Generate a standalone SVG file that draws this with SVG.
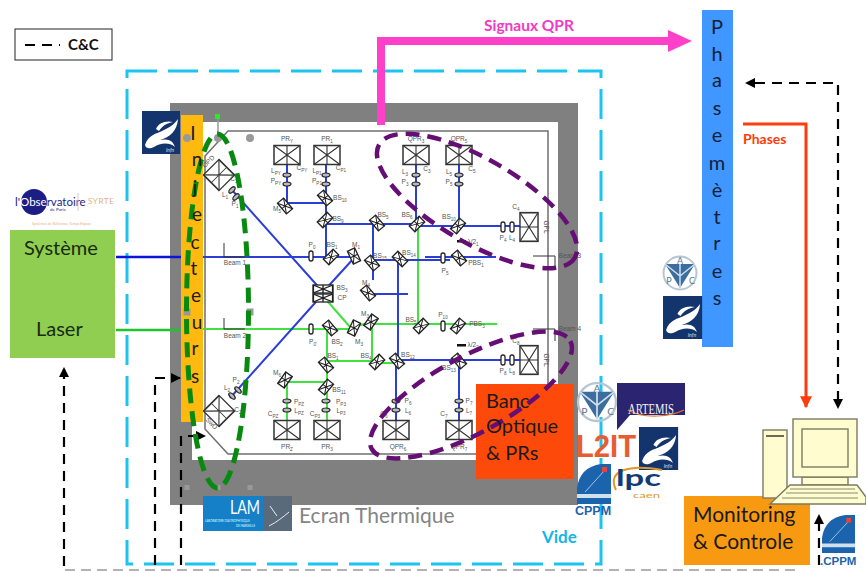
<svg xmlns="http://www.w3.org/2000/svg" xmlns:xlink="http://www.w3.org/1999/xlink" width="866" height="571" viewBox="0 0 866 571">
<style>
text{font-family:"Lato","Liberation Sans",sans-serif}
.l{font-family:"Liberation Sans",sans-serif;font-size:6.5px;fill:#555;text-anchor:middle}
.s{font-size:4.6px}
.b{fill:none;stroke:#2b3fd6;stroke-width:2}
.g{fill:none;stroke:#3fe23f;stroke-width:2}
.c{fill:#fff;stroke:#222;stroke-width:1.3}
.ln{fill:#bbb;stroke:#222;stroke-width:1.2}
.dash{fill:none;stroke:#000;stroke-width:2.2;stroke-dasharray:10 7}
.big{font-size:19px;fill:#1d1d1d;text-anchor:middle}
.bigb{font-size:20px;fill:#14203a;text-anchor:middle}
.box{font-size:20px;fill:#1a1a1a}
.h{fill:#999}
.pur{fill:none;stroke:#650f75;stroke-width:4.5;stroke-dasharray:14 8}
.bm{fill:none;stroke:#333;stroke-width:1}
.cpp{font-family:"Liberation Sans",sans-serif;font-weight:700;font-size:12.5px;fill:#1b63ad}
.pc{fill:#fffdd0;stroke:#7b7b62;stroke-width:1.4}
</style>
<defs>
<g id="bs"><rect class="c" x="-7" y="-4" width="14" height="8"/><path d="M-7-4L7 4M-7 4L7-4M0-4V4" stroke="#222" stroke-width="1" fill="none"/></g>
<g id="det"><rect x="-13" y="-9.5" width="26" height="19" fill="#fff" stroke="#333" stroke-width="1.5"/><path d="M-13-9.5L13 9.5M-13 9.5L13-9.5M0-9.5V9.5" stroke="#333" stroke-width="1.1" fill="none"/></g>
<ellipse id="lh" class="ln" rx="4" ry="2"/>
<rect id="pv" class="c" x="-2" y="-5" width="4" height="10" rx="2"/>
<g id="infn"><rect width="38" height="43" fill="#14346e"/><path d="M3 34C6 24 14 23 22 19C29 16 33 12 36 8C35 20 28 26 18 29C27 27 31 30 33 36C27 31 18 32 12 36C8 38 4 38 3 34Z" fill="#fff"/><path d="M14 18C16 12 24 9 31 11C25 12 20 15 17 20Z" fill="#fff"/><text x="24" y="41" font-size="5" font-style="italic" fill="#cfe0ee">Infn</text></g>
<g id="apc"><circle r="16.500" fill="none" stroke="#b6c6d4" stroke-width="2"/><path d="M-15-9L15-9L0 15Z" fill="#3c6d9e"/><path d="M0-9L0 3L-15-9M0 3L15-9M0 3V15" stroke="#cfe0ee" stroke-width="1.5" fill="none"/><text x="0" y="-9" font-size="9" fill="#5b7690" text-anchor="middle">A</text><text x="-11" y="11" font-size="9" fill="#5b7690" text-anchor="middle">P</text><text x="12" y="11" font-size="9" fill="#5b7690" text-anchor="middle">C</text></g>
<g id="cppm"><path d="M0 40V24Q3 3 24 0H34V40Z" fill="#1b63ad"/><path d="M0 30H34V34H0Z" fill="#cfe0ee"/><path d="M8 28L28 6" stroke="#9cc4ea" stroke-width="1"/><rect x="25" y="3" width="5" height="5" fill="#e8433a"/></g>
<marker id="ah" viewBox="0 0 10 10" refX="9" refY="5" markerWidth="4.6" markerHeight="4.6" orient="auto"><path d="M0 0L10 5L0 10Z" fill="#000"/></marker>
<marker id="ar" viewBox="0 0 10 10" refX="9" refY="5" markerWidth="4" markerHeight="4.5" orient="auto"><path d="M0 0L10 5L0 10Z" fill="#ff3c0a"/></marker>
</defs>

<g id="legend"><rect x="15" y="29" width="97" height="31" fill="#fff" stroke="#222" stroke-width="1"/><path d="M25 45H60" class="dash" stroke-dasharray="9 5"/><text x="68" y="50" font-size="15" font-weight="700" fill="#111">C&amp;C</text></g>

<g id="vide"><rect x="127" y="71" width="474" height="493" fill="none" stroke="#1cc4f0" stroke-width="3" stroke-dasharray="30 11"/><text x="542" y="543" font-size="17" font-weight="700" fill="#12b6e8">Vide</text></g>

<g id="ecran"><rect x="170" y="103" width="408" height="402" fill="#808080"/><rect x="192" y="122" width="366" height="338" fill="#fff"/><path d="M228 131H548V454H228L205 429V156Z" fill="#fff" stroke="#6f6f6f" stroke-width="1.5"/><text x="299" y="523" font-size="21" fill="#848484">Ecran Thermique</text></g>

<g id="connectors">
<path d="M116 257H181" fill="none" stroke="#0a14d8" stroke-width="2.4"/>
<path d="M116 330H181" fill="none" stroke="#1dc42e" stroke-width="2.4"/>
<path class="g" d="M203 329H350M327 329V420M327 361H377M287 382H327M287 382V420M323 296L350 327M354 327L371 322M372 324H497M372 324V363H397M418 226V324"/>
<path class="b" d="M203 257H350M326 165V257M287 165V203H326M326 224H416M373 224V280M416 224V165M459 165V227M416 226H520M373 260H450M425 257H496M370 294H408M398 260V360M397 360H520M396 360V420M459 360V420"/>
<path class="b" d="M354 258L323 292M232 190L323 292M230 398L323 294"/>
<path class="bm" d="M224 243V257H245M224 318V329H245M533 256H555V267M533 329H555V341"/>
<path d="M381 125V41H672" fill="none" stroke="#ff40c8" stroke-width="8"/>
<path d="M668 30L692 41L668 52Z" fill="#ff40c8"/>
<path d="M743 124H806V407" fill="none" stroke="#ff3c0a" stroke-width="3" marker-end="url(#ar)"/>
<path class="dash" d="M755 83H838V408" marker-end="url(#ah)"/>
<path d="M755 78L745 83L755 88Z" fill="#000"/>
<path class="dash" d="M64 566V368" marker-end="url(#ah)"/>
<path class="dash" d="M155 565V378H180" marker-end="url(#ah)"/>
<path class="dash" d="M181 565V436H205" marker-end="url(#ah)"/>
<path class="dash" d="M819 565V515" marker-end="url(#ah)"/>
<path d="M65 570H800" fill="none" stroke="#9a9a9a" stroke-width="1.5" stroke-dasharray="10 6"/>
</g>

<g id="optics">
<use xlink:href="#det" transform="translate(287 155)"/><use xlink:href="#det" transform="translate(327 155)"/><use xlink:href="#det" transform="translate(416 155)"/><use xlink:href="#det" transform="translate(459 155)"/>
<use xlink:href="#det" transform="translate(287 430)"/><use xlink:href="#det" transform="translate(327 430)"/><use xlink:href="#det" transform="translate(396 430)"/><use xlink:href="#det" transform="translate(459 430)"/>
<use xlink:href="#det" transform="translate(529 227) rotate(90) scale(1.1 .95)"/><use xlink:href="#det" transform="translate(529 360) rotate(90) scale(1.1 .95)"/>
<use xlink:href="#det" transform="translate(219 175) rotate(45) scale(.85 1.15)"/><use xlink:href="#det" transform="translate(219 411) rotate(-45) scale(.85 1.15)"/>
<use xlink:href="#lh" x="287" y="175"/><use xlink:href="#lh" x="287" y="184"/><use xlink:href="#lh" x="326" y="175"/><use xlink:href="#lh" x="326" y="184"/><use xlink:href="#lh" x="416" y="175"/><use xlink:href="#lh" x="416" y="184"/><use xlink:href="#lh" x="459" y="175"/><use xlink:href="#lh" x="459" y="184"/>
<use xlink:href="#lh" x="287" y="401"/><use xlink:href="#lh" x="287" y="410"/><use xlink:href="#lh" x="326" y="401"/><use xlink:href="#lh" x="326" y="410"/><use xlink:href="#lh" x="396" y="401"/><use xlink:href="#lh" x="396" y="410"/><use xlink:href="#lh" x="459" y="401"/><use xlink:href="#lh" x="459" y="410"/>
<use xlink:href="#lh" transform="translate(232 190) rotate(-45)"/><use xlink:href="#lh" transform="translate(236 197) rotate(-45)"/><use xlink:href="#lh" transform="translate(232 396) rotate(45)"/><use xlink:href="#lh" transform="translate(238 390) rotate(45)"/>
<use xlink:href="#pv" x="311" y="256"/><use xlink:href="#pv" x="311" y="329"/><use xlink:href="#pv" x="443" y="258"/><use xlink:href="#pv" x="443" y="326"/><use xlink:href="#pv" x="503" y="227"/><use xlink:href="#pv" x="512" y="227"/><use xlink:href="#pv" x="503" y="360"/><use xlink:href="#pv" x="512" y="360"/>
<use xlink:href="#bs" transform="translate(285 206) rotate(50)"/><use xlink:href="#bs" transform="translate(325 198) rotate(50)"/><use xlink:href="#bs" transform="translate(325 220) rotate(-45)"/><use xlink:href="#bs" transform="translate(331 257) rotate(-45)"/><use xlink:href="#bs" transform="translate(354 256) rotate(65)"/><use xlink:href="#bs" transform="translate(377 223) rotate(50)"/><use xlink:href="#bs" transform="translate(372 263) rotate(50)"/><use xlink:href="#bs" transform="translate(368 293) rotate(50)"/><use xlink:href="#bs" transform="translate(417 224) rotate(-45)"/><use xlink:href="#bs" transform="translate(458 226) rotate(-50)"/><use xlink:href="#bs" transform="translate(400 259) rotate(45)"/><use xlink:href="#bs" transform="translate(459 258) rotate(50)"/>
<use xlink:href="#bs" transform="translate(323 289) scale(1.4 1)"/><use xlink:href="#bs" transform="translate(323 298) scale(1.4 1)"/>
<use xlink:href="#bs" transform="translate(330 328) rotate(50)"/><use xlink:href="#bs" transform="translate(354 328) rotate(-65)"/><use xlink:href="#bs" transform="translate(371 322) rotate(-55)"/><use xlink:href="#bs" transform="translate(326 365) rotate(50)"/><use xlink:href="#bs" transform="translate(377 362) rotate(-45)"/><use xlink:href="#bs" transform="translate(326 387) rotate(-50)"/><use xlink:href="#bs" transform="translate(285 380) rotate(-55)"/><use xlink:href="#bs" transform="translate(421 326) rotate(-45)"/><use xlink:href="#bs" transform="translate(458 326) rotate(-50)"/><use xlink:href="#bs" transform="translate(397 361) rotate(50)"/><use xlink:href="#bs" transform="translate(459 361) rotate(50)"/>
<rect x="457" y="240" width="9" height="2.500" fill="#111"/><rect x="457" y="344" width="9" height="2.500" fill="#111"/>
</g>

<g id="labels">
<text class="l" x="287" y="141">PR<tspan class="s" dy="1.500">Y</tspan></text><text class="l" x="327" y="141">PR<tspan class="s" dy="1.500">1</tspan></text><text class="l" x="416" y="141">QPR<tspan class="s" dy="1.500">3</tspan></text><text class="l" x="459" y="141">QPR<tspan class="s" dy="1.500">5</tspan></text>
<text class="l" x="276" y="173">L<tspan class="s" dy="1.500">PY</tspan></text><text class="l" x="302" y="170">C<tspan class="s" dy="1.500">PY</tspan></text><text class="l" x="276" y="183">P<tspan class="s" dy="1.500">PY</tspan></text><text class="l" x="317" y="173">L<tspan class="s" dy="1.500">P1</tspan></text><text class="l" x="341" y="170">C<tspan class="s" dy="1.500">P1</tspan></text><text class="l" x="317" y="183">P<tspan class="s" dy="1.500">P1</tspan></text>
<text class="l" x="405" y="174">L<tspan class="s" dy="1.500">3</tspan></text><text class="l" x="405" y="184">P<tspan class="s" dy="1.500">3</tspan></text><text class="l" x="427" y="171">C<tspan class="s" dy="1.500">3</tspan></text><text class="l" x="449" y="174">L<tspan class="s" dy="1.500">5</tspan></text><text class="l" x="449" y="184">P<tspan class="s" dy="1.500">5</tspan></text><text class="l" x="472" y="171">C<tspan class="s" dy="1.500">5</tspan></text>
<text class="l" x="277" y="211">M<tspan class="s" dy="1.500">5</tspan></text><text class="l" x="340" y="200">BS<tspan class="s" dy="1.500">10</tspan></text><text class="l" x="338" y="221">BS<tspan class="s" dy="1.500">9</tspan></text><text class="l" x="383" y="217">BS<tspan class="s" dy="1.500">5</tspan></text><text class="l" x="407" y="217">BS<tspan class="s" dy="1.500">6</tspan></text><text class="l" x="449" y="219">BS<tspan class="s" dy="1.500">10</tspan></text>
<text class="l" x="312" y="247">P<tspan class="s" dy="1.500">0</tspan></text><text class="l" x="332" y="247">BS<tspan class="s" dy="1.500">1</tspan></text><text class="l" x="356" y="247">M<tspan class="s" dy="1.500">1</tspan></text><text class="l" x="380" y="258">BS<tspan class="s" dy="1.500">15</tspan></text><text class="l" x="409" y="255">BS<tspan class="s" dy="1.500">14</tspan></text>
<text class="l" x="473" y="244">λ/2<tspan class="s" dy="1.500">1</tspan></text><text class="l" x="476" y="265">PBS<tspan class="s" dy="1.500">1</tspan></text><text class="l" x="445" y="273">P<tspan class="s" dy="1.500">5</tspan></text><text class="l" x="516" y="209">C<tspan class="s" dy="1.500">4</tspan></text><text class="l" x="503" y="240">P<tspan class="s" dy="1.500">4</tspan></text><text class="l" x="512" y="240">L<tspan class="s" dy="1.500">4</tspan></text>
<text class="l" transform="translate(544 227) rotate(90)">GPL</text><text class="l" transform="translate(544 360) rotate(90)">GPL</text>
<text class="l" x="342" y="290">BS<tspan class="s" dy="1.500">3</tspan></text><text class="l" x="342" y="300">CP</text><text class="l" x="366" y="285">M<tspan class="s" dy="1.500">4</tspan></text>
<text class="l" x="313" y="344">P<tspan class="s" dy="1.500">0'</tspan></text><text class="l" x="337" y="344">BS<tspan class="s" dy="1.500">2</tspan></text><text class="l" x="359" y="344">M<tspan class="s" dy="1.500">3</tspan></text><text class="l" x="365" y="316">M<tspan class="s" dy="1.500">3</tspan></text><text class="l" x="333" y="358">BS<tspan class="s" dy="1.500">1</tspan></text><text class="l" x="366" y="358">BS<tspan class="s" dy="1.500">4</tspan></text>
<text class="l" x="277" y="375">M<tspan class="s" dy="1.500">6</tspan></text><text class="l" x="339" y="392">BS<tspan class="s" dy="1.500">11</tspan></text><text class="l" x="299" y="404">P<tspan class="s" dy="1.500">PZ</tspan></text><text class="l" x="299" y="413">L<tspan class="s" dy="1.500">PZ</tspan></text><text class="l" x="273" y="416">C<tspan class="s" dy="1.500">PZ</tspan></text><text class="l" x="341" y="404">P<tspan class="s" dy="1.500">P3</tspan></text><text class="l" x="341" y="413">L<tspan class="s" dy="1.500">P3</tspan></text><text class="l" x="315" y="416">C<tspan class="s" dy="1.500">P3</tspan></text><text class="l" x="287" y="449">PR<tspan class="s" dy="1.500">Z</tspan></text><text class="l" x="327" y="449">PR<tspan class="s" dy="1.500">3</tspan></text>
<text class="l" x="411" y="322">BS<tspan class="s" dy="1.500">5</tspan></text><text class="l" x="443" y="317">P<tspan class="s" dy="1.500">10</tspan></text><text class="l" x="477" y="326">PBS<tspan class="s" dy="1.500">3</tspan></text><text class="l" x="473" y="347">λ/2<tspan class="s" dy="1.500">2</tspan></text><text class="l" x="408" y="357">BS<tspan class="s" dy="1.500">12</tspan></text><text class="l" x="449" y="370">BS<tspan class="s" dy="1.500">13</tspan></text><text class="l" x="516" y="343">C<tspan class="s" dy="1.500">8</tspan></text><text class="l" x="503" y="373">P<tspan class="s" dy="1.500">8</tspan></text><text class="l" x="512" y="373">L<tspan class="s" dy="1.500">8</tspan></text>
<text class="l" x="408" y="403">P<tspan class="s" dy="1.500">6</tspan></text><text class="l" x="408" y="413">L<tspan class="s" dy="1.500">6</tspan></text><text class="l" x="384" y="416">C<tspan class="s" dy="1.500">6</tspan></text><text class="l" x="469" y="403">P<tspan class="s" dy="1.500">7</tspan></text><text class="l" x="469" y="413">L<tspan class="s" dy="1.500">7</tspan></text><text class="l" x="444" y="416">C<tspan class="s" dy="1.500">7</tspan></text><text class="l" x="398" y="449">QPR<tspan class="s" dy="1.500">6</tspan></text><text class="l" x="459" y="449">QPR<tspan class="s" dy="1.500">7</tspan></text>
<text class="l" x="225" y="197">L<tspan class="s" dy="1.500">1</tspan></text><text class="l" x="235" y="206">P<tspan class="s" dy="1.500">1</tspan></text><text class="l" x="234" y="181">C<tspan class="s" dy="1.500">1</tspan></text><text class="l" x="236" y="382">P<tspan class="s" dy="1.500">2</tspan></text><text class="l" x="227" y="390">L<tspan class="s" dy="1.500">2</tspan></text><text class="l" x="238" y="412">C<tspan class="s" dy="1.500">2</tspan></text>
<text class="l" transform="translate(210 163) rotate(-45)">OPD</text><text class="l" transform="translate(210 425) rotate(45)">SwD</text>
<text class="l" x="235" y="265">Beam 1</text><text class="l" x="235" y="338">Beam 2</text><text class="l" x="570" y="258">Beam 3</text><text class="l" x="570" y="331">Beam 4</text>
</g>

<g id="injecteursFond"><rect x="181" y="115" width="22" height="307" fill="#ffb90f"/></g>

<g id="handles"><path d="M218 118V135" stroke="#999" stroke-width="1.500"/><rect x="215" y="114" width="5" height="5" fill="#22ee22"/><circle class="h" cx="187" cy="138" r="4"/><circle class="h" cx="218" cy="138" r="4"/><circle class="h" cx="250" cy="138" r="4"/><rect class="h" x="183.500" y="308.500" width="7" height="7"/><rect class="h" x="246.500" y="308.500" width="7" height="7"/><rect class="h" x="184.500" y="485" width="5" height="5"/><rect class="h" x="215.500" y="485" width="5" height="5"/><rect class="h" x="247.500" y="485" width="5" height="5"/></g>

<g id="banc"><rect x="476" y="384" width="98" height="95" fill="#fd4a0a"/></g>
<g id="groupes">
<ellipse cx="217.500" cy="311" rx="31" ry="177" fill="none" stroke="#088a10" stroke-width="5" stroke-dasharray="15 8"/>
<ellipse class="pur" cx="477" cy="201" rx="113" ry="42" transform="rotate(30 477 201)"/>
<ellipse class="pur" cx="471" cy="395" rx="113" ry="38" transform="rotate(-28.500 471 395)"/>
</g>
<g id="injecteurs"><text class="big" x="193" y="140">I</text><text class="big" x="197" y="166">n</text><text class="big" x="195" y="194">j</text><text class="big" x="197" y="221">e</text><text class="big" x="195" y="249">c</text><text class="big" x="194" y="275">t</text><text class="big" x="196" y="302">e</text><text class="big" x="197" y="329">u</text><text class="big" x="195" y="355">r</text><text class="big" x="195" y="383">s</text></g>
<g id="bancText"><text class="box" x="486" y="408">Banc</text><text class="box" x="486" y="433">Optique</text><text class="box" x="486" y="460">&amp; PRs</text></g>

<g id="laser"><rect x="10" y="230" width="105" height="128" fill="#8fce50"/><text x="24" y="255" font-size="20" fill="#1a2a10">Système</text><text x="36" y="336" font-size="20" fill="#1a2a10">Laser</text></g>

<g id="observatoire"><circle cx="34" cy="202" r="13" fill="#1d1d86"/><text x="15" y="206" font-size="11.500" fill="#1d1d86">l'<tspan fill="#fff">Obse</tspan>rvatoire</text><text x="50" y="211" font-size="4.500" fill="#1d1d86">de Paris</text><path d="M78 193V211" stroke="#ccd" stroke-width="1"/><text x="88" y="204" font-size="8" letter-spacing=".6" fill="#e5ae82">SYRTE</text><text x="32" y="225" font-size="3.600" fill="#e5ae82">Systèmes de Référence Temps Espace</text></g>

<g id="signaux"><text x="484" y="31" font-size="15.500" font-weight="700" fill="#f23ac2">Signaux QPR</text></g>

<g id="phasemetres"><rect x="702" y="10" width="31" height="337" fill="#3f97ff"/>
<text class="bigb" x="717" y="34">P</text><text class="bigb" x="717" y="61">h</text><text class="bigb" x="717" y="87">a</text><text class="bigb" x="717" y="115">s</text><text class="bigb" x="717" y="142">e</text><text class="bigb" x="717" y="170">m</text><text class="bigb" x="717" y="197">è</text><text class="bigb" x="717" y="224">t</text><text class="bigb" x="717" y="250">r</text><text class="bigb" x="717" y="278">e</text><text class="bigb" x="717" y="305">s</text></g>
<g id="phases"><text x="743" y="144" font-size="14" font-weight="700" fill="#ff3c0a">Phases</text></g>

<g id="logos">
<use xlink:href="#infn" x="142" y="111"/>
<use xlink:href="#infn" transform="translate(663 296) scale(1.030 1)"/>
<use xlink:href="#infn" transform="translate(639 427) scale(1.030 1)"/>
<use xlink:href="#apc" transform="translate(680 273)"/>
<use xlink:href="#apc" transform="translate(597 402) scale(1.150)"/>
<g id="artemis"><path d="M617 383H685V415H630L617 430Z" fill="#2b2470"/><path d="M628 410C645 420 672 416 684 410" fill="none" stroke="#e07a30" stroke-width="1.200"/><text x="651" y="414" font-size="14" fill="#f2f2f8" text-anchor="middle" textLength="46" lengthAdjust="spacingAndGlyphs" style="font-family:'Liberation Serif',serif">ARTEMIS</text></g>
<text x="576" y="457" font-size="32" font-weight="700" fill="#e85c32" textLength="60" lengthAdjust="spacingAndGlyphs" style="font-family:'Liberation Sans',sans-serif">L2IT</text>
<use xlink:href="#cppm" transform="translate(577 464)"/><text class="cpp" x="575" y="515">CPPM</text>
<g id="lpc"><path d="M616 490C606 470 630 464 662 470" fill="none" stroke="#d99a2c" stroke-width="2"/><text x="616" y="486" font-size="22" font-weight="700" fill="#123a78" textLength="45" lengthAdjust="spacingAndGlyphs">lpc</text><text x="633" y="498" font-size="7" fill="#d99a2c" textLength="27" lengthAdjust="spacingAndGlyphs">caen</text></g>
<use xlink:href="#cppm" transform="translate(822 515) scale(.97 .95)"/><text class="cpp" x="820" y="565" style="font-size:11.500px">.CPPM</text>
<g id="lam"><rect x="203" y="496" width="60" height="35" fill="#1580c8"/><rect x="263" y="496" width="29" height="35" fill="#596b7a"/><text x="230" y="514" font-size="20" fill="#fff" textLength="30" lengthAdjust="spacingAndGlyphs">LAM</text><text x="205" y="522" font-size="2.800" fill="#dff">LABORATOIRE D'ASTROPHYSIQUE</text><text x="236" y="527" font-size="2.800" fill="#dff">DE MARSEILLE</text><path d="M269 526C277 522 283 517 289 512M270 506L277 516" stroke="#e8edf0" stroke-width="1" fill="none"/></g>
</g>

<g id="monitoring"><rect x="684" y="496" width="126" height="69" fill="#f79a12"/><text x="693" y="522" font-size="21" fill="#1a1a1a">Monitoring</text><text x="693" y="549" font-size="21" fill="#1a1a1a">&amp; Controle</text></g>

<g id="computer"><rect class="pc" x="763" y="430" width="24" height="68"/><rect x="766" y="435" width="18" height="2" fill="#6b6b50"/><rect class="pc" x="802" y="477" width="46" height="8"/><rect class="pc" x="793" y="419" width="64" height="58"/><rect class="pc" x="802" y="429" width="46" height="38"/><path class="pc" d="M770 504L790 485H857L866 497V504Z"/><path d="M782 498H858M786 493H858M790 489H855" stroke="#8a8a70" stroke-width="1" fill="none"/></g>
</svg>
